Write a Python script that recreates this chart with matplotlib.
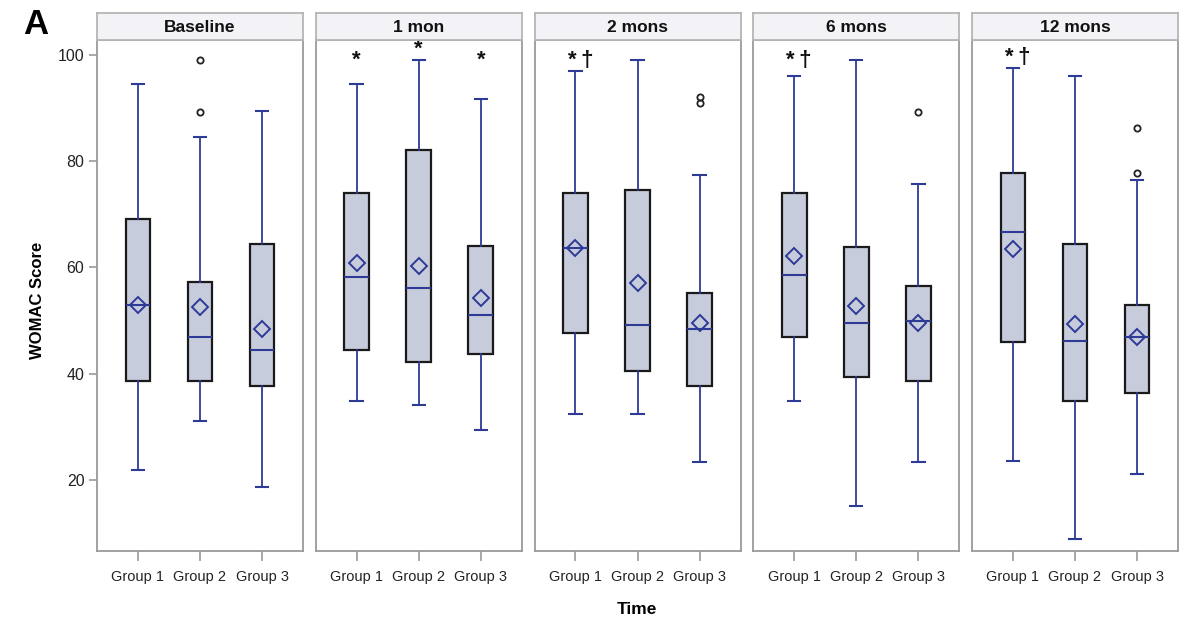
import matplotlib
matplotlib.use("Agg")
import matplotlib.pyplot as plt

# ---------------- data ----------------
panels = ["Baseline", "1 mon", "2 mons", "6 mons", "12 mons"]
groups = ["Group 1", "Group 2", "Group 3"]

# per panel, per group
whislo = [[21.9, 31.1, 18.7], [34.9, 34.0, 29.4], [32.4, 32.4, 23.4], [34.9, 15.1, 23.4], [23.6, 8.9, 21.1]]
q1     = [[38.6, 38.6, 37.7], [44.5, 42.2, 43.7], [47.7, 40.5, 37.7], [46.9, 39.4, 38.6], [46.0, 34.9, 36.4]]
median = [[52.9, 46.9, 44.5], [58.2, 56.1, 51.1], [63.7, 49.2, 48.4], [58.6, 49.6, 49.9], [66.7, 46.2, 46.9]]
mean   = [[52.9, 52.6, 48.4], [60.9, 60.2, 54.3], [63.7, 57.1, 49.6], [62.2, 52.8, 49.5], [63.5, 49.4, 46.9]]
q3     = [[69.1, 57.3, 64.4], [74.0, 82.1, 64.1], [74.0, 74.6, 55.2], [74.0, 63.9, 56.5], [77.8, 64.4, 52.9]]
whishi = [[94.5, 84.6, 89.5], [94.5, 99.1, 91.6], [97.0, 99.1, 77.3], [96.0, 99.1, 75.7], [97.5, 96.1, 76.5]]
fliers = [[[], [99.1, 89.3], []],
          [[], [], []],
          [[], [], [92.0, 90.9]],
          [[], [], [89.3]],
          [[], [], [86.3, 77.8]]]

# significance markers: (panel index, group index, label)
annotations = [(1, 0, "*"), (1, 1, "*"), (1, 2, "*"),
               (2, 0, "*\u2020"), (3, 0, "*\u2020"), (4, 0, "*\u2020")]

yticks = [20, 40, 60, 80, 100]

# ---------------- style ----------------
BOX_FILL = "#c7ccdc"
BLUE = "#2d3a96"
GRAY = "#9a9a9a"
FONT = ["Liberation Sans", "DejaVu Sans"]

fig = plt.figure(figsize=(12, 6.32), dpi=100)

W, H = 1200, 632
ax_left0 = 97
ax_w = 206
step = 218.75
ax_top = 40
ax_bot = 551
strip_top = 13

for p, name in enumerate(panels):
    left = (ax_left0 + p * step) / W
    ax = fig.add_axes([left, 1 - ax_bot / H, ax_w / W, (ax_bot - ax_top) / H])
    stats = []
    for g in range(3):
        stats.append(dict(med=median[p][g], q1=q1[p][g], q3=q3[p][g],
                          whislo=whislo[p][g], whishi=whishi[p][g],
                          mean=mean[p][g], fliers=fliers[p][g]))
    ax.bxp(stats, positions=[1, 2, 3], widths=0.4, capwidths=0.2,
           showmeans=True, patch_artist=True, showfliers=True,
           boxprops=dict(facecolor=BOX_FILL, edgecolor="#1a1a1a", linewidth=1.6),
           whiskerprops=dict(color=BLUE, linewidth=1.3),
           capprops=dict(color=BLUE, linewidth=1.5),
           medianprops=dict(color=BLUE, linewidth=1.5),
           meanprops=dict(marker="D", markerfacecolor="none", markeredgecolor=BLUE,
                          markeredgewidth=1.4, markersize=8.5),
           flierprops=dict(marker="o", markerfacecolor="none", markeredgecolor="#222222",
                           markeredgewidth=1.3, markersize=4.5))
    ax.set_xlim(0.34, 3.66)
    ax.set_ylim(6.6, 102.8)
    for s in ax.spines.values():
        s.set_color(GRAY)
        s.set_linewidth(1.3)
    ax.set_xticks([1, 2, 3])
    ax.set_xticklabels(groups, family=FONT, fontsize=10.5, color="#222222")
    ax.tick_params(axis="x", length=7, width=1.2, color=GRAY, pad=7)
    if p == 0:
        ax.set_yticks(yticks)
        ax.set_yticklabels([str(v) for v in yticks], family=FONT, fontsize=11.5, color="#222222")
        ax.tick_params(axis="y", length=6, width=1.2, color=GRAY, pad=3)
    else:
        ax.set_yticks([])
    # strip header
    sax = fig.add_axes([left, 1 - ax_top / H, ax_w / W, (ax_top - strip_top) / H])
    sax.set_facecolor("#f3f3f7")
    sax.set_xticks([])
    sax.set_yticks([])
    for s in sax.spines.values():
        s.set_color("#b5b5b5")
        s.set_linewidth(1.3)
    sax.text(0.5, 0.45, name, transform=sax.transAxes, ha="center", va="center",
             fontsize=12.5, fontweight="bold", family=FONT, color="#111111")
    for (pi, gi, lab) in annotations:
        if pi == p:
            xoff = 0.08 if len(lab) > 1 else 0.0
            ytxt = max(whishi[pi][gi] + 2.0, 99.0)
            ax.text(gi + 1 + xoff, ytxt, lab.replace("*\u2020", "*\u2009\u2020"),
                    ha="center", va="center",
                    fontsize=16, fontweight="bold", family=FONT, color="#111111")

fig.text(38 / W, 1 - 300 / H, "WOMAC Score", rotation=90, ha="center", va="center",
         fontsize=12, fontweight="bold", family=FONT)
fig.text(637 / W, 1 - 609 / H, "Time", ha="center", va="center",
         fontsize=12.5, fontweight="bold", family=FONT)
fig.text(36 / W, 1 - 24 / H, "A", ha="center", va="center",
         fontsize=25, fontweight="bold", family=FONT)

fig.savefig("out.png", dpi=100, facecolor="white")
